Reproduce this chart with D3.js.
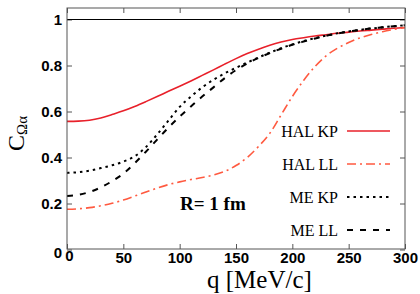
<!DOCTYPE html>
<html>
<head>
<meta charset="utf-8">
<script src="https://cdn.jsdelivr.net/npm/d3@7"></script>
<style>
  body { margin: 0; background: #fff; }
  svg { display: block; }
</style>
</head>
<body>
<div id="chart"></div>
<script>
// q grid [MeV/c]
const qValues = [0, 10, 20, 30, 40, 50, 60, 70, 80, 90, 100, 110, 120, 130, 140, 150,
  160, 170, 180, 190, 200, 210, 220, 230, 240, 250, 260, 270, 280, 290, 300];

// correlation functions
const halKP = [0.557, 0.558, 0.562, 0.572, 0.587, 0.603, 0.622, 0.643, 0.665, 0.688, 0.710,
  0.733, 0.757, 0.781, 0.806, 0.830, 0.852, 0.871, 0.888, 0.902, 0.913, 0.921, 0.928,
  0.934, 0.940, 0.945, 0.950, 0.954, 0.958, 0.962, 0.965];
const halLL = [0.175, 0.177, 0.182, 0.190, 0.201, 0.215, 0.232, 0.250, 0.267, 0.282, 0.294,
  0.304, 0.313, 0.324, 0.340, 0.365, 0.400, 0.448, 0.505, 0.585, 0.665, 0.735, 0.795,
  0.842, 0.875, 0.900, 0.920, 0.935, 0.947, 0.957, 0.965];
const meKP = [0.333, 0.336, 0.343, 0.354, 0.366, 0.382, 0.405, 0.445, 0.500, 0.560, 0.620,
  0.665, 0.705, 0.738, 0.766, 0.790, 0.813, 0.835, 0.856, 0.875, 0.892, 0.906, 0.919,
  0.930, 0.940, 0.948, 0.955, 0.961, 0.966, 0.971, 0.975];
const meLL = [0.233, 0.238, 0.250, 0.270, 0.297, 0.330, 0.375, 0.425, 0.478, 0.530, 0.578,
  0.622, 0.665, 0.705, 0.745, 0.780, 0.809, 0.833, 0.854, 0.873, 0.890, 0.904, 0.917,
  0.929, 0.939, 0.947, 0.955, 0.961, 0.966, 0.971, 0.975];

const xTicks = [0, 50, 100, 150, 200, 250, 300];
const yTicks = [0, 0.2, 0.4, 0.6, 0.8, 1];

const series = [
  {name: 'HAL KP', values: halKP, color: '#e8202a', dash: null, width: 1.6},
  {name: 'HAL LL', values: halLL, color: '#ff5a40', dash: '9,4,2,4', width: 1.6},
  {name: 'ME KP', values: meKP, color: '#000', dash: '2.5,4', width: 2},
  {name: 'ME LL', values: meLL, color: '#000', dash: '6,7', width: 2},
];

const cfg = {
  width: 420,
  height: 294,
  margin: {left: 67, right: 15, top: 8, bottom: 45},
};

const svg = d3.select('#chart')
  .append('svg')
  .attr('width', cfg.width)
  .attr('height', cfg.height)
  .attr('viewBox', [0, 0, cfg.width, cfg.height])
  ;

const x0 = cfg.margin.left, x1 = cfg.width - cfg.margin.right;
const y0 = cfg.height - cfg.margin.bottom, y1 = cfg.margin.top;

const xScale = d3.scaleLinear([0, 300], [x0, x1]);
const yScale = d3.scaleLinear([0, 1.05], [y0 + 0.5, y1]);

svg.append('defs')
  .append('clipPath')
  .attr('id', 'plotclip')
  .append('rect')
  .attr('x', x0).attr('y', y1)
  .attr('width', x1 - x0).attr('height', y0 - y1)
  ;

// ticks (inward on all four sides)
const tickFont = 'bold 15px "Liberation Sans", Arial, sans-serif';

const xAxisB = d3.axisBottom(xScale).tickValues(xTicks).tickSizeInner(-5).tickSizeOuter(0).tickPadding(3);
const xAxisT = d3.axisTop(xScale).tickValues(xTicks).tickSizeInner(-5).tickSizeOuter(0).tickFormat('');
const yAxisL = d3.axisLeft(yScale).tickValues(yTicks).tickSizeInner(-5).tickSizeOuter(0).tickPadding(5)
  .tickFormat(d => d === 0 ? '0' : d3.format('~g')(d));
const yAxisR = d3.axisRight(yScale).tickValues(yTicks).tickSizeInner(-5).tickSizeOuter(0).tickFormat('');

const gxB = svg.append('g').attr('transform', `translate(0, ${y0})`).call(xAxisB);
const gxT = svg.append('g').attr('transform', `translate(0, ${y1})`).call(xAxisT);
const gyL = svg.append('g').attr('transform', `translate(${x0}, 0)`).call(yAxisL);
const gyR = svg.append('g').attr('transform', `translate(${x1}, 0)`).call(yAxisR);

[gxB, gxT, gyL, gyR].forEach(g => {
  g.select('.domain').remove();
  g.selectAll('.tick line').attr('stroke', '#555');
  g.selectAll('.tick text')
    .style('font', tickFont)
    .attr('fill', '#000');
});
gxB.selectAll('.tick text').attr('y', 3).attr('dy', '0.7em');
gyL.selectAll('.tick text')
  .attr('x', -5)
  .attr('dy', d => d === 0 ? '0.55em' : '0.35em');
gxB.selectAll('.tick text').filter(d => d === 0).attr('x', 2).attr('dy', '0.6em');

// line at C = 1
svg.append('line')
  .attr('x1', x0).attr('x2', x1)
  .attr('y1', yScale(1)).attr('y2', yScale(1))
  .attr('stroke', '#000')
  .attr('stroke-width', 1)
  ;

// curves
const line = d3.line()
  .x((d, i) => xScale(qValues[i]))
  .y(d => yScale(d))
  .curve(d3.curveMonotoneX);

svg.append('g')
  .attr('clip-path', 'url(#plotclip)')
  .selectAll('path')
  .data(series)
  .join('path')
  .attr('d', d => line(d.values))
  .attr('fill', 'none')
  .attr('stroke', d => d.color)
  .attr('stroke-width', d => d.width)
  .attr('stroke-dasharray', d => d.dash)
  ;

// frame
svg.append('rect')
  .attr('x', x0).attr('y', y1)
  .attr('width', x1 - x0).attr('height', y0 - y1)
  .attr('fill', 'none')
  .attr('stroke', '#555')
  .attr('stroke-width', 1)
  ;

// legend
const legend = svg.append('g').attr('class', 'legend');
const legY = d3.scaleLinear([0, 3], [131, 230]);

const item = legend.selectAll('g')
  .data(series)
  .join('g')
  .attr('transform', (d, i) => `translate(0, ${legY(i)})`)
  ;
item.append('text')
  .attr('x', 338)
  .attr('y', 6)
  .attr('text-anchor', 'end')
  .style('font', '16px "Liberation Serif", "Times New Roman", serif')
  .text(d => d.name)
  ;
item.append('line')
  .attr('x1', 347).attr('x2', 390)
  .attr('y1', 0).attr('y2', 0)
  .attr('stroke', d => d.color)
  .attr('stroke-width', d => d.width)
  .attr('stroke-dasharray', d => d.dash)
  ;

// annotation
svg.append('text')
  .attr('x', 180)
  .attr('y', 210)
  .style('font', 'bold 19px "Liberation Serif", "Times New Roman", serif')
  .text('R= 1 fm')
  ;

// axis titles
svg.append('text')
  .attr('x', 207)
  .attr('y', 288)
  .style('font', '25px "Liberation Serif", "Times New Roman", serif')
  .text('q [MeV/c]')
  ;

const ytitle = svg.append('text')
  .attr('transform', 'translate(24, 151) rotate(-90)')
  .style('font', '24px "Liberation Serif", "Times New Roman", serif')
  ;
ytitle.append('tspan').text('C');
ytitle.append('tspan')
  .attr('dy', 3)
  .style('font-size', '15px')
  .text('Ωα');
</script>
</body>
</html>
